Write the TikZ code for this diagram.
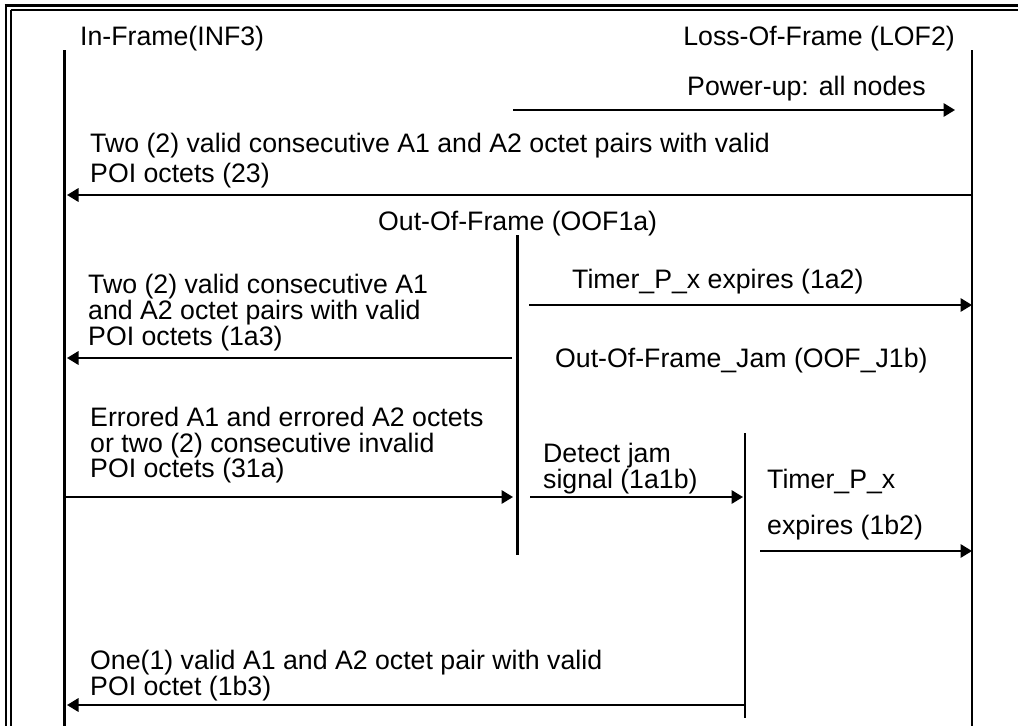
\documentclass[tikz,border=0pt]{standalone}
\usepackage{fontspec}
\setmainfont{Liberation Sans}
\usetikzlibrary{arrows.meta}
\begin{document}
\begin{tikzpicture}[x=1pt,y=-1pt,
  lbl/.style={anchor=base west,inner sep=0pt,font=\fontsize{26.7}{30}\selectfont},
  lblr/.style={anchor=base east,inner sep=0pt,font=\fontsize{26.7}{30}\selectfont},
  life/.style={line width=2.4pt},
  msg/.style={line width=1.8pt,-{Triangle[length=11.5pt,width=13.5pt]}},
  ]
\useasboundingbox (0,0) rectangle (1018,726);
% double page frame (top and left)
\draw[line width=3pt] (4.5,5.5) -- (1018,5.5);
\draw[line width=1.5pt] (10.5,10) -- (1018,10);
\draw[line width=2.5pt] (6,4) -- (6,726);
\draw[line width=1.5pt] (11,9.5) -- (11,726);

% lifelines
\coordinate (infT) at (64.5,50);  \coordinate (infB) at (64.5,726);
\coordinate (lofT) at (972,50);   \coordinate (lofB) at (972,726);
\coordinate (oofT) at (517.5,235); \coordinate (oofB) at (517.5,555);
\coordinate (jamT) at (745,433);  \coordinate (jamB) at (745,718);
\draw[life] (infT) -- (infB);
\draw[life] (lofT) -- (lofB);
\draw[life] (oofT) -- (oofB);
\draw[life] (jamT) -- (jamB);

% state names
\node[lbl]  (inf) at (80,45)  {In-Frame(INF3)};
\node[lblr] (lof) at (955,45) {Loss-Of-Frame (LOF2)};
\node[lbl]  (oof) at (378,230) {Out-Of-Frame (OOF1a)};
\node[lbl]  (jam) at (555,367) {Out-Of-Frame\_Jam (OOF\_J1b)};

% transition labels
\node[lbl] (pw)   at (687,95)  {Power-up: all nodes};
\node[lbl] (t23a) at (90,152)  {Two (2) valid consecutive A1 and A2 octet pairs with valid};
\node[lbl] (t23b) at (90,182)  {POI octets (23)};
\node[lbl] (t1a2) at (572,288) {Timer\_P\_x expires (1a2)};
\node[lbl] (t1a3a) at (88,293) {Two (2) valid consecutive A1};
\node[lbl] (t1a3b) at (88,319) {and A2 octet pairs with valid};
\node[lbl] (t1a3c) at (88,345) {POI octets (1a3)};
\node[lbl] (t31a) at (90,426)  {Errored A1 and errored A2 octets};
\node[lbl] (t31b) at (90,452)  {or two (2) consecutive invalid};
\node[lbl] (t31c) at (90,477)  {POI octets (31a)};
\node[lbl] (tjma) at (543,462) {Detect jam};
\node[lbl] (tjmb) at (543,488) {signal (1a1b)};
\node[lbl] (t1b2a) at (767,488) {Timer\_P\_x};
\node[lbl] (t1b2b) at (767,534) {expires (1b2)};
\node[lbl] (t1b3a) at (90,669) {One(1) valid A1 and A2 octet pair with valid};
\node[lbl] (t1b3b) at (90,695) {POI octet (1b3)};

% transition arrows
\coordinate (pwS) at (513,110);   \coordinate (pwE) at (955,110);
\coordinate (a23S) at (972,195);  \coordinate (a23E) at (67,195);
\coordinate (a1a2S) at (529,305); \coordinate (a1a2E) at (972,305);
\coordinate (a1a3S) at (512,358); \coordinate (a1a3E) at (67,358);
\coordinate (a31S) at (65,497);   \coordinate (a31E) at (513,497);
\coordinate (ajmS) at (530,497);  \coordinate (ajmE) at (743,497);
\coordinate (a1b2S) at (760,551); \coordinate (a1b2E) at (972,551);
\coordinate (a1b3S) at (744,705); \coordinate (a1b3E) at (67,705);
\draw[msg] (pwS) -- (pwE);
\draw[msg] (a23S) -- (a23E);
\draw[msg] (a1a2S) -- (a1a2E);
\draw[msg] (a1a3S) -- (a1a3E);
\draw[msg] (a31S) -- (a31E);
\draw[msg] (ajmS) -- (ajmE);
\draw[msg] (a1b2S) -- (a1b2E);
\draw[msg] (a1b3S) -- (a1b3E);
\end{tikzpicture}
\end{document}
